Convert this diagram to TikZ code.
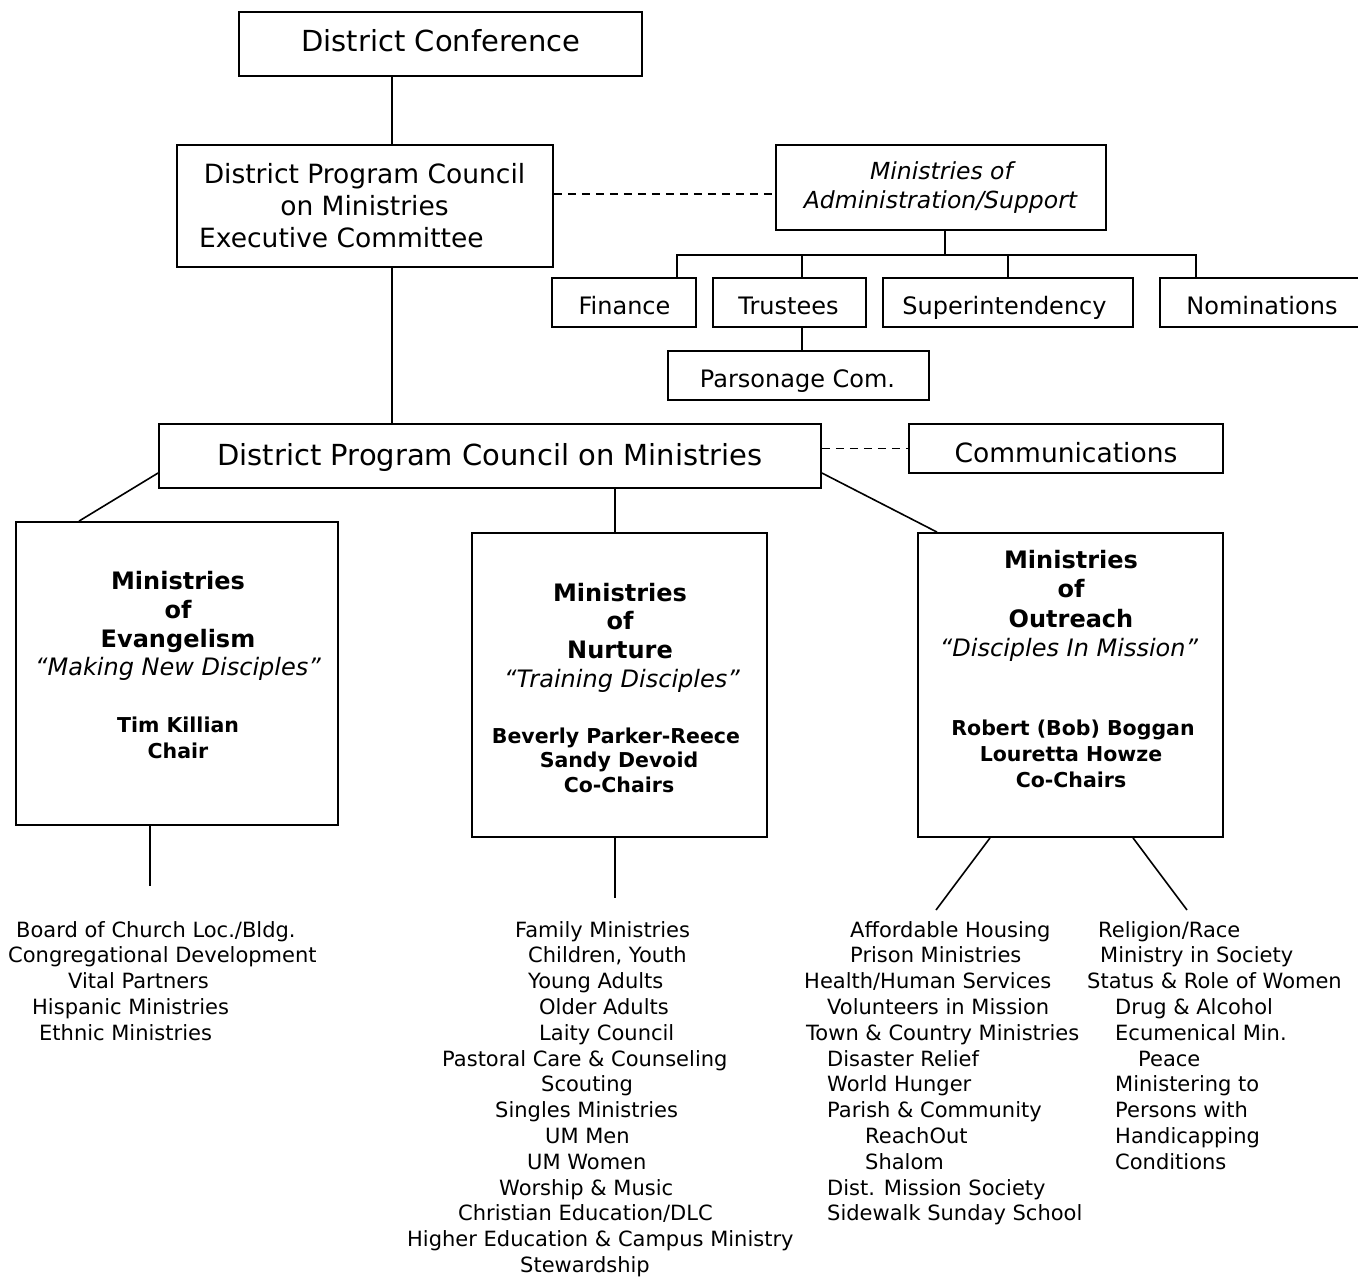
\documentclass[tikz,border=0pt]{standalone}
\usepackage{fontspec}
\setmainfont{DejaVu Sans}
\begin{document}
\begin{tikzpicture}[x=1pt,y=-1pt]
\tikzset{
  box/.style={draw, line width=1.8pt, inner sep=0pt},
  conn/.style={line width=1.6pt},
  dashconn/.style={line width=1.6pt, dash pattern=on 8pt off 6pt},
  tbig/.style={font=\fontsize{29}{35}\selectfont, inner sep=0pt, anchor=base},
  tmed/.style={font=\fontsize{26.5}{32}\selectfont, inner sep=0pt, anchor=base},
  tsmall/.style={font=\fontsize{24}{29}\selectfont, inner sep=0pt, anchor=base},
  tadmin/.style={font=\fontsize{23.5}{28}\itshape\selectfont, inner sep=0pt, anchor=base},
  thead/.style={font=\fontsize{24}{29}\bfseries\selectfont, inner sep=0pt, anchor=base},
  tmotto/.style={font=\fontsize{24}{29}\itshape\selectfont, inner sep=0pt, anchor=base},
  tname/.style={font=\fontsize{20.5}{25}\bfseries\selectfont, inner sep=0pt, anchor=base},
  tlist/.style={font=\fontsize{21}{25.8}\selectfont, inner sep=0pt, anchor=base west},
}
\useasboundingbox (0,0) rectangle (1358,1279);
\fill[white] (0,0) rectangle (1358,1279);
\clip (0,0) rectangle (1358,1279);

% ---------- boxes ----------
\node[box, minimum width=403pt, minimum height=64pt] (dc) at (440.5,44) {};
\node[box, minimum width=376pt, minimum height=122pt] (exec) at (365,206) {};
\node[box, minimum width=330pt, minimum height=85pt] (admin) at (941,187.5) {};
\node[box, minimum width=144pt, minimum height=49pt] (finance) at (624,302.5) {};
\node[box, minimum width=153pt, minimum height=49pt] (trustees) at (789.5,302.5) {};
\node[box, minimum width=250pt, minimum height=49pt] (superint) at (1008,302.5) {};
\node[box, minimum width=220pt, minimum height=49pt] (nomin) at (1270,302.5) {};
\node[box, minimum width=261pt, minimum height=49pt] (parson) at (798.5,375.5) {};
\node[box, minimum width=662pt, minimum height=64pt] (dpcm) at (490,456) {};
\node[box, minimum width=314pt, minimum height=49pt] (comm) at (1066,448.5) {};
\node[box, minimum width=322pt, minimum height=303pt] (evang) at (177,673.5) {};
\node[box, minimum width=295pt, minimum height=304pt] (nurt) at (619.5,685) {};
\node[box, minimum width=305pt, minimum height=304pt] (outr) at (1070.5,685) {};

% ---------- box texts ----------
\node[tbig] (dct) at (441,52) {District Conference};
\node[tmed] (ex1) at (364.5,183) {District Program Council};
\node[tmed] (ex2) at (364.5,215) {on Ministries};
\node[tmed, anchor=base west] (ex3) at (199,247) {Executive Committee};
\node[tadmin] (ad1) at (941.5,179) {Ministries of};
\node[tadmin] (ad2) at (940.5,208) {Administration/Support};
\node[tsmall] (fit) at (624.5,314) {Finance};
\node[tsmall] (trt) at (788.5,314) {Trustees};
\node[tsmall] (sut) at (1004.5,314) {Superintendency};
\node[tsmall] (not) at (1262,314) {Nominations};
\node[tsmall] (pat) at (797.5,387) {Parsonage Com.};
\node[tbig] (dpt) at (490,465) {District Program Council on Ministries};
\node[tmed] (cot) at (1066,462) {Communications};

\node[thead] (ev1) at (178,589) {Ministries};
\node[thead] (ev2) at (178,618) {of};
\node[thead] (ev3) at (178,647) {Evangelism};
\node[tmotto] (ev4) at (178,675) {“Making New Disciples”};
\node[tname] (ev5) at (178,732) {Tim Killian};
\node[tname] (ev6) at (178,758) {Chair};

\node[thead] (nu1) at (620,601) {Ministries};
\node[thead] (nu2) at (620,629) {of};
\node[thead] (nu3) at (620,658) {Nurture};
\node[tmotto] (nu4) at (622,687) {“Training Disciples”};
\node[tname] (nu5) at (616,743) {Beverly Parker-Reece};
\node[tname] (nu6) at (619,767) {Sandy Devoid};
\node[tname] (nu7) at (619,792) {Co-Chairs};

\node[thead] (ou1) at (1071,568) {Ministries};
\node[thead] (ou2) at (1071,597) {of};
\node[thead] (ou3) at (1071,627) {Outreach};
\node[tmotto] (ou4) at (1069,656) {“Disciples In Mission”};
\node[tname] (ou5) at (1073,735) {Robert (Bob) Boggan};
\node[tname] (ou6) at (1071,761) {Louretta Howze};
\node[tname] (ou7) at (1071,787) {Co-Chairs};

% ---------- connectors ----------
\coordinate (bus) at (945,255);
\coordinate (eend) at (150,886);
\coordinate (nend) at (615,898);
\coordinate (oend1) at (936,910);
\coordinate (oend2) at (1187,910);

\draw[conn] (dc.south -| 392,0) -- (exec.north -| 392,0);
\draw[dashconn] (exec.east |- 0,194) -- (admin.west |- 0,194);
\draw[conn] (admin.south -| bus) -- (bus);
\draw[conn] (finance.north -| 677,0) |- (bus) -| (nomin.north -| 1196,0);
\draw[conn] (trustees.north -| 802,0) -- (802,0 |- bus);
\draw[conn] (superint.north -| 1008,0) -- (1008,0 |- bus);
\draw[conn] (trustees.south -| 802,0) -- (parson.north -| 802,0);
\draw[conn] (exec.south -| 392,0) -- (dpcm.north -| 392,0);
\draw[dashconn] (dpcm.east |- comm.west) -- (comm.west);
\draw[conn] (dpcm.west |- 0,473) -- (evang.north -| 79,0);
\draw[conn] (dpcm.south -| 615,0) -- (nurt.north -| 615,0);
\draw[conn] (dpcm.east |- 0,473) -- (outr.north -| 937,0);
\draw[conn] (evang.south -| eend) -- (eend);
\draw[conn] (nurt.south -| nend) -- (nend);
\draw[conn] (outr.south -| 990,0) -- (oend1);
\draw[conn] (outr.south -| 1133,0) -- (oend2);

% ---------- lists ----------
\foreach \xx/\tt [count=\i from 0] in {
  16/{Board of Church Loc./Bldg.},
  8/{Congregational Development},
  68/{Vital Partners},
  32/{Hispanic Ministries},
  39/{Ethnic Ministries}}
  \node[tlist] (le\i) at (\xx,937+25.8*\i) {\tt};

\foreach \xx/\tt [count=\i from 0] in {
  515/{Family Ministries},
  528/{Children, Youth},
  528/{Young Adults},
  539/{Older Adults},
  539/{Laity Council},
  442/{Pastoral Care \& Counseling},
  541/{Scouting},
  495/{Singles Ministries},
  545/{UM Men},
  527/{UM Women},
  499/{Worship \& Music},
  458/{Christian Education/DLC},
  407/{Higher Education \& Campus Ministry},
  520/{Stewardship}}
  \node[tlist] (ln\i) at (\xx,937+25.8*\i) {\tt};

\foreach \xx/\tt [count=\i from 0] in {
  850/{Affordable Housing},
  850/{Prison Ministries},
  804/{Health/Human Services},
  827/{Volunteers in Mission},
  806/{Town \& Country Ministries},
  827/{Disaster Relief},
  827/{World Hunger},
  827/{Parish \& Community},
  865/{ReachOut},
  865/{Shalom},
  827/{Dist. Mission Society},
  827/{Sidewalk Sunday School}}
  \node[tlist] (lo\i) at (\xx,937+25.8*\i) {\tt};

\foreach \xx/\tt [count=\i from 0] in {
  1098/{Religion/Race},
  1100/{Ministry in Society},
  1087/{Status \& Role of Women},
  1115/{Drug \& Alcohol},
  1115/{Ecumenical Min.},
  1138/{Peace},
  1115/{Ministering to},
  1115/{Persons with},
  1115/{Handicapping},
  1115/{Conditions}}
  \node[tlist] (lr\i) at (\xx,937+25.8*\i) {\tt};
\end{tikzpicture}
\end{document}
